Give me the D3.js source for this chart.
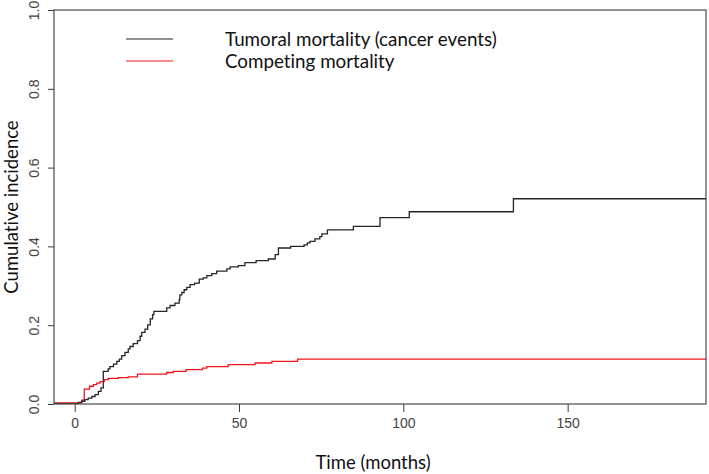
<!DOCTYPE html>
<html>
<head>
<meta charset="utf-8">
<script src="https://cdn.jsdelivr.net/npm/d3@7"></script>
<style>
  body { margin: 0; background: #fff; }
  svg { display: block; }
  text { font-variant-ligatures: none; }
</style>
</head>
<body>
<svg id="canvas" width="709" height="474"></svg>
<script>
// Cumulative incidence (time in months).
let tumoralTimes = [1.1, 2.1, 3.1, 4.1, 5.2, 6.2, 7.2, 8.0, 8.7, 10.2, 10.7, 11.8, 12.8, 13.6, 14.3, 15.3,
    16.3, 16.8, 17.8, 19.1, 19.9, 20.4, 21.4, 22.2, 23.0, 23.7, 24.1, 28.0, 29.0, 30.5, 31.8, 32.0,
    32.6, 33.3, 34.1, 35.1, 36.5, 37.9, 39.1, 40.2, 41.7, 43.2, 46.3, 47.3, 49.8, 51.8, 55.2, 58.9,
    61.0, 62.0, 65.7, 69.8, 70.8, 71.6, 73.1, 74.6, 75.2, 76.9, 84.8, 92.9, 101.8, 133.5];
let tumoralValues = [0.004, 0.007, 0.011, 0.015, 0.019, 0.024, 0.032, 0.041, 0.083, 0.089, 0.095, 0.101,
    0.108, 0.114, 0.123, 0.131, 0.140, 0.146, 0.153, 0.161, 0.172, 0.182, 0.190, 0.201, 0.216, 0.227,
    0.235, 0.244, 0.250, 0.256, 0.265, 0.277, 0.283, 0.290, 0.296, 0.303, 0.307, 0.317, 0.320, 0.326,
    0.331, 0.337, 0.343, 0.348, 0.351, 0.359, 0.364, 0.368, 0.379, 0.396, 0.400, 0.404, 0.409, 0.413,
    0.419, 0.425, 0.432, 0.442, 0.451, 0.473, 0.488, 0.521];
let tumoralStart = 0;

let competingTimes = [2.1, 2.9, 4.5, 5.7, 6.7, 7.7, 9.0, 10.2, 13.3, 16.3, 19.1, 28.0, 30.0, 33.9,
    38.9, 40.2, 46.7, 54.9, 60.0, 67.8];
let competingValues = [0.010, 0.038, 0.045, 0.049, 0.053, 0.057, 0.062, 0.065, 0.067, 0.069, 0.076,
    0.080, 0.083, 0.087, 0.091, 0.095, 0.100, 0.104, 0.108, 0.114];
let competingStart = 0.003;

let xTicks = [0, 50, 100, 150];
let yTicks = [0, 0.2, 0.4, 0.6, 0.8, 1.0];
let legendLabels = ["Tumoral mortality (cancer events)", "Competing mortality"];
let seriesColors = ["#262626", "#f0141a"];

let canvas = d3.select("#canvas");

// Plot box.
let boxLeft = 54, boxRight = 706, boxTop = 10, boxBottom = 404;

let x = d3.scaleLinear().domain([-6.3, 192.1]).range([boxLeft, boxRight]);
let y = d3.scaleLinear().domain([0, 1]).range([boxBottom, boxTop]);

function buildSeries(start, times, values) {
    let pts = [[x.domain()[0], start]];
    times.forEach((t, i) => pts.push([t, values[i]]));
    pts.push([x.domain()[1], values[values.length - 1]]);
    return pts;
}

let series = [
    buildSeries(tumoralStart, tumoralTimes, tumoralValues),
    buildSeries(competingStart, competingTimes, competingValues)
];

canvas.append("clipPath").attr("id", "plot-clip")
    .append("rect")
    .attr("x", boxLeft).attr("y", boxTop)
    .attr("width", boxRight - boxLeft).attr("height", boxBottom - boxTop);

let line = d3.line()
    .x(d => x(d[0]))
    .y(d => y(d[1]))
    .curve(d3.curveStepAfter);

// Draw the red one first so the black curve lies on top where they overlap.
canvas.append("g")
    .attr("clip-path", "url(#plot-clip)")
    .selectAll("path")
    .data([1, 0])
    .enter()
    .append("path")
    .attr("d", i => line(series[i]))
    .attr("fill", "none")
    .attr("stroke", i => seriesColors[i])
    .attr("stroke-width", 1.3);

// Box round the plot.
canvas.append("rect")
    .attr("x", boxLeft).attr("y", boxTop)
    .attr("width", boxRight - boxLeft).attr("height", boxBottom - boxTop)
    .attr("fill", "none")
    .attr("stroke", "#3a3a3a")
    .attr("stroke-width", 1.1);

// X axis.
let xAxis = canvas.append("g")
    .attr("transform", `translate(0,${boxBottom})`)
    .call(d3.axisBottom(x).tickValues(xTicks).tickSize(8).tickSizeOuter(0).tickPadding(6).tickFormat(d3.format("d")));
xAxis.select(".domain").remove();
xAxis.selectAll(".tick line").attr("stroke", "#3a3a3a");
xAxis.selectAll(".tick text")
    .attr("fill", "#444")
    .attr("font-family", "Liberation Sans, Arial, sans-serif")
    .attr("font-size", 14);

// Y axis, labels parallel to the axis.
let yAxis = canvas.append("g")
    .attr("transform", `translate(${boxLeft},0)`)
    .call(d3.axisLeft(y).tickValues(yTicks).tickSize(6).tickSizeOuter(0).tickFormat(d3.format(".1f")));
yAxis.select(".domain").remove();
yAxis.selectAll(".tick line").attr("stroke", "#3a3a3a");
yAxis.selectAll(".tick text")
    .attr("fill", "#444")
    .attr("font-family", "Liberation Sans, Arial, sans-serif")
    .attr("font-size", 14)
    .attr("x", null).attr("dy", null)
    .attr("text-anchor", "middle")
    .attr("transform", "translate(-15,0) rotate(-90)");

// Axis titles.
let titleFont = "Lato, 'Open Sans', sans-serif";
canvas.append("text")
    .attr("x", (boxLeft + boxRight) / 2 - 7)
    .attr("y", 469)
    .attr("text-anchor", "middle")
    .attr("font-family", titleFont)
    .attr("font-size", 18.5)
    .attr("fill", "#111")
    .text("Time (months)");

canvas.append("text")
    .attr("transform", `translate(18,${(boxTop + boxBottom) / 2}) rotate(-90)`)
    .attr("text-anchor", "middle")
    .attr("font-family", titleFont)
    .attr("font-size", 18.5)
    .attr("fill", "#111")
    .text("Cumulative incidence");

// Legend.
let legend = canvas.append("g");
legendLabels.forEach((label, i) => {
    let ly = 39 + i * 22;
    legend.append("line")
        .attr("x1", 126).attr("x2", 173)
        .attr("y1", ly).attr("y2", ly)
        .attr("stroke", seriesColors[i])
        .attr("stroke-width", 1.2);
    legend.append("text")
        .attr("x", 225)
        .attr("y", ly + 6.5)
        .attr("font-family", titleFont)
        .attr("font-size", 18.8)
        .attr("fill", "#111")
        .text(label);
});
</script>
</body>
</html>
